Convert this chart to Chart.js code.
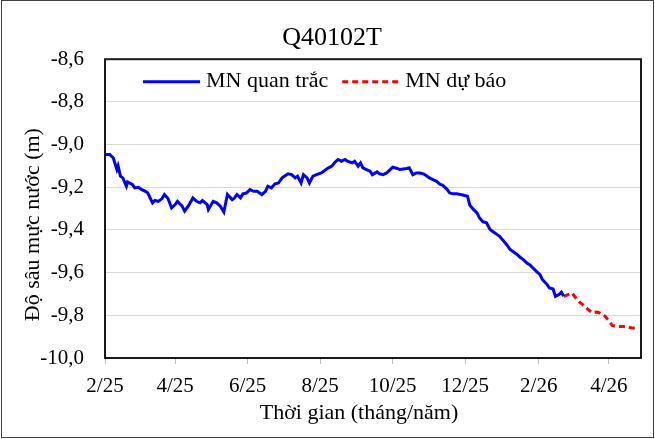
<!DOCTYPE html>
<html lang="vi">
<head>
<meta charset="utf-8">
<title>Q40102T</title>
<script src="https://cdn.jsdelivr.net/npm/chart.js@4.4.1/dist/chart.umd.min.js"></script>
<style>
    html, body { margin: 0; padding: 0; background: #fff; }
    canvas { display: block; }
</style>
</head>
<body>
<canvas id="q40102t-chart" width="655" height="439"></canvas>
<script>
// Days are counted from 01/02/2025
const startDate = '2025-02-01';
const endDate = '2026-04-28';

// Axis ticks (month/year)
const tickDates = ['2025-02-01', '2025-04-01', '2025-06-01', '2025-08-01',
    '2025-10-01', '2025-12-01', '2026-02-01', '2026-04-01'];
const tickLabels = ['2/25', '4/25', '6/25', '8/25', '10/25', '12/25', '2/26', '4/26'];

// MN quan trắc (observed)
const obsDays = [0, 4, 7, 10, 11, 13, 15, 18, 19, 23, 25, 28, 31, 34, 36, 40, 42, 45, 48, 50,
    53, 56, 59, 61, 65, 67, 70, 74, 77, 80, 82, 86, 87, 91, 94, 97, 100, 103, 107, 109,
    111, 114, 116, 119, 122, 125, 128, 132, 135, 137, 140, 143, 146, 149, 151, 154, 157, 160, 162, 165,
    167, 170, 172, 175, 178, 182, 184, 188, 191, 193, 196, 199, 202, 204, 208, 210, 213, 215, 217, 220,
    223, 225, 229, 231, 234, 237, 240, 242, 246, 248, 251, 254, 256, 259, 262, 265, 268, 271, 273, 276,
    279, 282, 284, 288, 290, 293, 296, 299, 301, 305, 307, 310, 313, 315, 318, 321, 324, 326, 330, 332,
    335, 338, 341, 343, 347, 349, 352, 355, 358, 360, 363, 366, 368, 372, 374, 377, 379, 382, 384, 386];
const obsLevels = [-9.047, -9.047, -9.063, -9.117, -9.100, -9.148, -9.156, -9.195, -9.175, -9.187,
    -9.203, -9.200, -9.211, -9.219, -9.227, -9.273, -9.262, -9.266, -9.253, -9.234,
    -9.253, -9.297, -9.281, -9.266, -9.289, -9.312, -9.289, -9.250, -9.266, -9.273,
    -9.262, -9.281, -9.304, -9.266, -9.273, -9.289, -9.316, -9.234, -9.258, -9.250,
    -9.234, -9.250, -9.231, -9.227, -9.211, -9.219, -9.219, -9.234, -9.219, -9.195,
    -9.203, -9.184, -9.180, -9.156, -9.148, -9.137, -9.141, -9.156, -9.148, -9.180,
    -9.141, -9.156, -9.180, -9.148, -9.141, -9.133, -9.125, -9.109, -9.101, -9.086,
    -9.070, -9.078, -9.070, -9.078, -9.086, -9.078, -9.101, -9.086, -9.109, -9.117,
    -9.125, -9.141, -9.128, -9.137, -9.141, -9.133, -9.117, -9.106, -9.112, -9.117,
    -9.114, -9.112, -9.109, -9.141, -9.133, -9.133, -9.137, -9.148, -9.156, -9.164,
    -9.172, -9.187, -9.190, -9.211, -9.227, -9.231, -9.231, -9.234, -9.236, -9.242,
    -9.284, -9.304, -9.320, -9.343, -9.362, -9.366, -9.398, -9.406, -9.422, -9.430,
    -9.449, -9.469, -9.492, -9.500, -9.516, -9.527, -9.539, -9.555, -9.566, -9.578,
    -9.594, -9.609, -9.632, -9.656, -9.672, -9.677, -9.711, -9.703, -9.692, -9.711];

// MN dự báo (forecast)
const fcDays = [386, 393, 395, 400, 402, 406, 410, 414, 416, 421, 423, 427, 432, 436, 440, 444, 448];
const fcLevels = [-9.711, -9.695, -9.711, -9.742, -9.750, -9.770, -9.789, -9.785, -9.789, -9.805,
    -9.820, -9.848, -9.852, -9.852, -9.855, -9.860, -9.860];

const FONT_FAMILY = '"Liberation Serif", "Times New Roman", serif';

/**
 * Number of days between startDate and the given date
 */
function dayOf(dateStr) {
    return Math.round((Date.parse(dateStr) - Date.parse(startDate)) / 86400000);
}

const tickDays = tickDates.map(dayOf);

function toPoints(days, levels) {
    return days.map((d, i) => ({ x: d, y: levels[i] }));
}

// Plot frame, drawn under the lines
const plotFrame = {
    id: 'plotFrame',
    beforeDatasetsDraw(chart) {
        const { ctx, chartArea: a } = chart;
        ctx.save();
        ctx.strokeStyle = '#1a1a1a';
        ctx.lineWidth = 2;
        ctx.strokeRect(a.left, a.top, a.right - a.left, a.bottom - a.top);
        ctx.restore();
    },
    afterDraw(chart) {
        // Outer border of the whole chart
        const { ctx, width, height } = chart;
        ctx.save();
        ctx.strokeStyle = '#404040';
        ctx.lineWidth = 1;
        ctx.strokeRect(1.5, 0.5, width - 3, height - 2);
        ctx.restore();
    }
};

// Legend inside the plot, top left
const innerLegend = {
    id: 'innerLegend',
    afterDraw(chart) {
        const { ctx, chartArea: a } = chart;
        let x = a.left + 38;
        const y = a.top + 22.5;
        ctx.save();
        ctx.font = '22px ' + FONT_FAMILY;
        ctx.textBaseline = 'middle';
        ctx.fillStyle = '#000';
        chart.data.datasets.forEach(ds => {
            ctx.beginPath();
            ctx.strokeStyle = ds.borderColor;
            ctx.lineWidth = ds.borderWidth;
            ctx.setLineDash(ds.borderDash || []);
            ctx.moveTo(x, y);
            ctx.lineTo(x + 57, y);
            ctx.stroke();
            ctx.setLineDash([]);
            x += 57 + 6;
            ctx.fillText(ds.label, x, y);
            x += ctx.measureText(ds.label).width + 14;
        });
        ctx.restore();
    }
};

// Axis titles (placed as in the original chart)
const axisTitles = {
    id: 'axisTitles',
    afterDraw(chart) {
        const { ctx, chartArea: a } = chart;
        ctx.save();
        ctx.font = '22px ' + FONT_FAMILY;
        ctx.fillStyle = '#000';
        ctx.textAlign = 'center';
        ctx.textBaseline = 'middle';
        ctx.fillText('Thời gian (tháng/năm)', (a.left + a.right) / 2 - 14, a.bottom + 55);
        ctx.translate(33, (a.top + a.bottom) / 2 + 16);
        ctx.rotate(-Math.PI / 2);
        ctx.fillText('Độ sâu mực nước (m)', 0, 0);
        ctx.restore();
    }
};

const ctx = document.getElementById('q40102t-chart').getContext('2d');
const chart = new Chart(ctx, {
    type: 'line',
    data: {
        datasets: [{
            label: 'MN quan trắc',
            data: toPoints(obsDays, obsLevels),
            borderColor: '#0000ff',
            borderWidth: 3,
            pointRadius: 0,
            tension: 0
        }, {
            label: 'MN dự báo',
            data: toPoints(fcDays, fcLevels),
            borderColor: '#ff0000',
            borderWidth: 3,
            borderDash: [6, 4],
            pointRadius: 0,
            tension: 0
        }]
    },
    options: {
        responsive: false,
        animation: false,
        devicePixelRatio: 1,
        layout: {
            padding: { left: 23, right: 14, top: 0, bottom: 0 }
        },
        plugins: {
            legend: { display: false },
            tooltip: { enabled: false },
            title: {
                display: true,
                text: 'Q40102T',
                color: '#000',
                font: { family: FONT_FAMILY, size: 26, weight: 'normal' },
                padding: { top: 23, bottom: 5 }
            }
        },
        scales: {
            x: {
                type: 'linear',
                min: 0,
                max: dayOf(endDate),
                afterBuildTicks: scale => {
                    scale.ticks = tickDays.map(v => ({ value: v }));
                },
                afterFit: scale => { scale.height = 81; },
                ticks: {
                    autoSkip: false,
                    maxRotation: 0,
                    padding: 10,
                    color: '#000',
                    font: { family: FONT_FAMILY, size: 21 },
                    callback: value => {
                        const i = tickDays.indexOf(value);
                        return i >= 0 ? tickLabels[i] : '';
                    }
                },
                grid: {
                    drawOnChartArea: false,
                    drawTicks: true,
                    tickLength: 6,
                    color: '#bfbfbf'
                },
                border: { display: false }
            },
            y: {
                min: -10,
                max: -8.6,
                afterFit: scale => { scale.width = 82; },
                ticks: {
                    stepSize: 0.2,
                    padding: 21,
                    color: '#000',
                    font: { family: FONT_FAMILY, size: 21 },
                    callback: value => Number(value).toFixed(1).replace('.', ',')
                },
                grid: {
                    color: '#d9d9d9',
                    lineWidth: 1,
                    drawTicks: false
                },
                border: { display: false }
            }
        }
    },
    plugins: [plotFrame, innerLegend, axisTitles]
});
</script>
</body>
</html>
